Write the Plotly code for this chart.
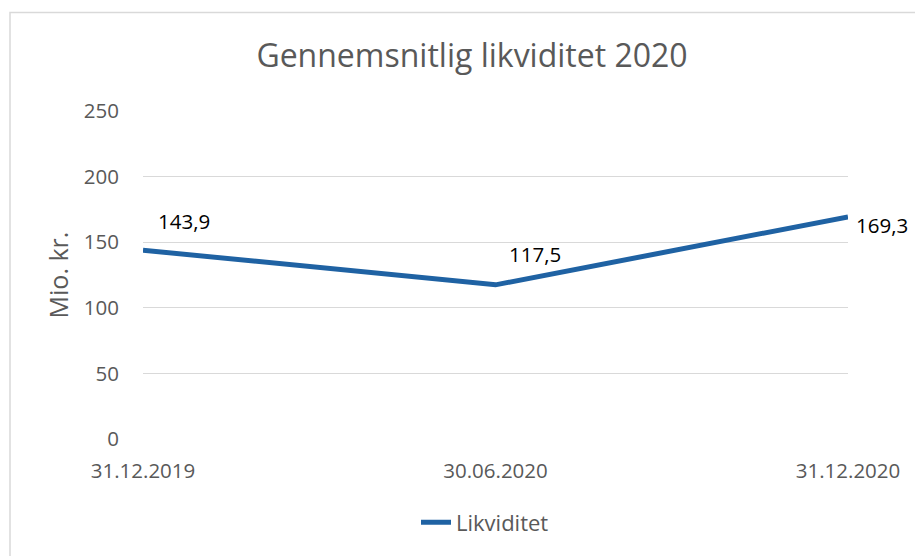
import plotly.graph_objects as go

categories = ["31.12.2019", "30.06.2020", "31.12.2020"]
values = [143.9, 117.5, 169.3]
labels = ["143,9", "117,5", "169,3"]
y_ticks = [0, 50, 100, 150, 200, 250]

# page has an 8px body margin, so figure is 8px smaller than window
W, H = 915, 548
L, R, T, B = 135, 75, 103, 115
pw, ph = W - L - R, H - T - B

FONT = "Open Sans"
GRAY = "#595959"

fig = go.Figure()
fig.add_trace(go.Scatter(
    x=list(range(len(categories))), y=values, mode="lines", name="Likviditet",
    line=dict(color="#1F62A3", width=5),
))

# data labels (offsets in pixels)
offsets = [(41, 29), (39, 31), (34, -8)]
for i, (v, lab) in enumerate(zip(values, labels)):
    dx, dy = offsets[i]
    fig.add_annotation(x=i, y=v, text=lab, showarrow=False, xshift=dx, yshift=dy,
                       font=dict(family=FONT, size=20.5, color="#000000"))

# outer border
fig.add_shape(type="rect", xref="paper", yref="paper",
              x0=(2 - L) / pw, x1=(W + 20 - L) / pw,
              y0=-(H + 20 - T - ph) / ph, y1=1 + (T - 4) / ph,
              line=dict(color="#D9D9D9", width=1.5), layer="below")

fig.update_layout(
    width=W, height=H,
    margin=dict(l=L, r=R, t=T, b=B),
    paper_bgcolor="white", plot_bgcolor="white",
    title=dict(text="Gennemsnitlig likviditet 2020", x=464 / W,
               xanchor="center", y=1 - 48 / H, yanchor="middle",
               font=dict(family=FONT, size=32, color=GRAY)),
    xaxis=dict(range=[0, 2], tickmode="array", tickvals=list(range(len(categories))),
               ticktext=categories, showgrid=False, zeroline=False, showline=False,
               ticks="", ticklabelstandoff=17,
               tickfont=dict(family=FONT, size=20.5, color=GRAY)),
    yaxis=dict(range=[0, 250], tickmode="array", tickvals=y_ticks,
               showgrid=True, gridcolor="#D9D9D9", gridwidth=1, zeroline=False,
               showline=False, ticks="", ticklabelstandoff=23,
               tickfont=dict(family=FONT, size=20.5, color=GRAY),
               title=dict(text="Mio. kr.", standoff=8,
                          font=dict(family=FONT, size=25, color=GRAY))),
    showlegend=True,
    legend=dict(orientation="h", x=(477 - L) / pw, xanchor="center",
                y=-(517 - T - ph) / ph, yanchor="middle",
                font=dict(family=FONT, size=22, color=GRAY)),
)

fig.write_html("out.html")
